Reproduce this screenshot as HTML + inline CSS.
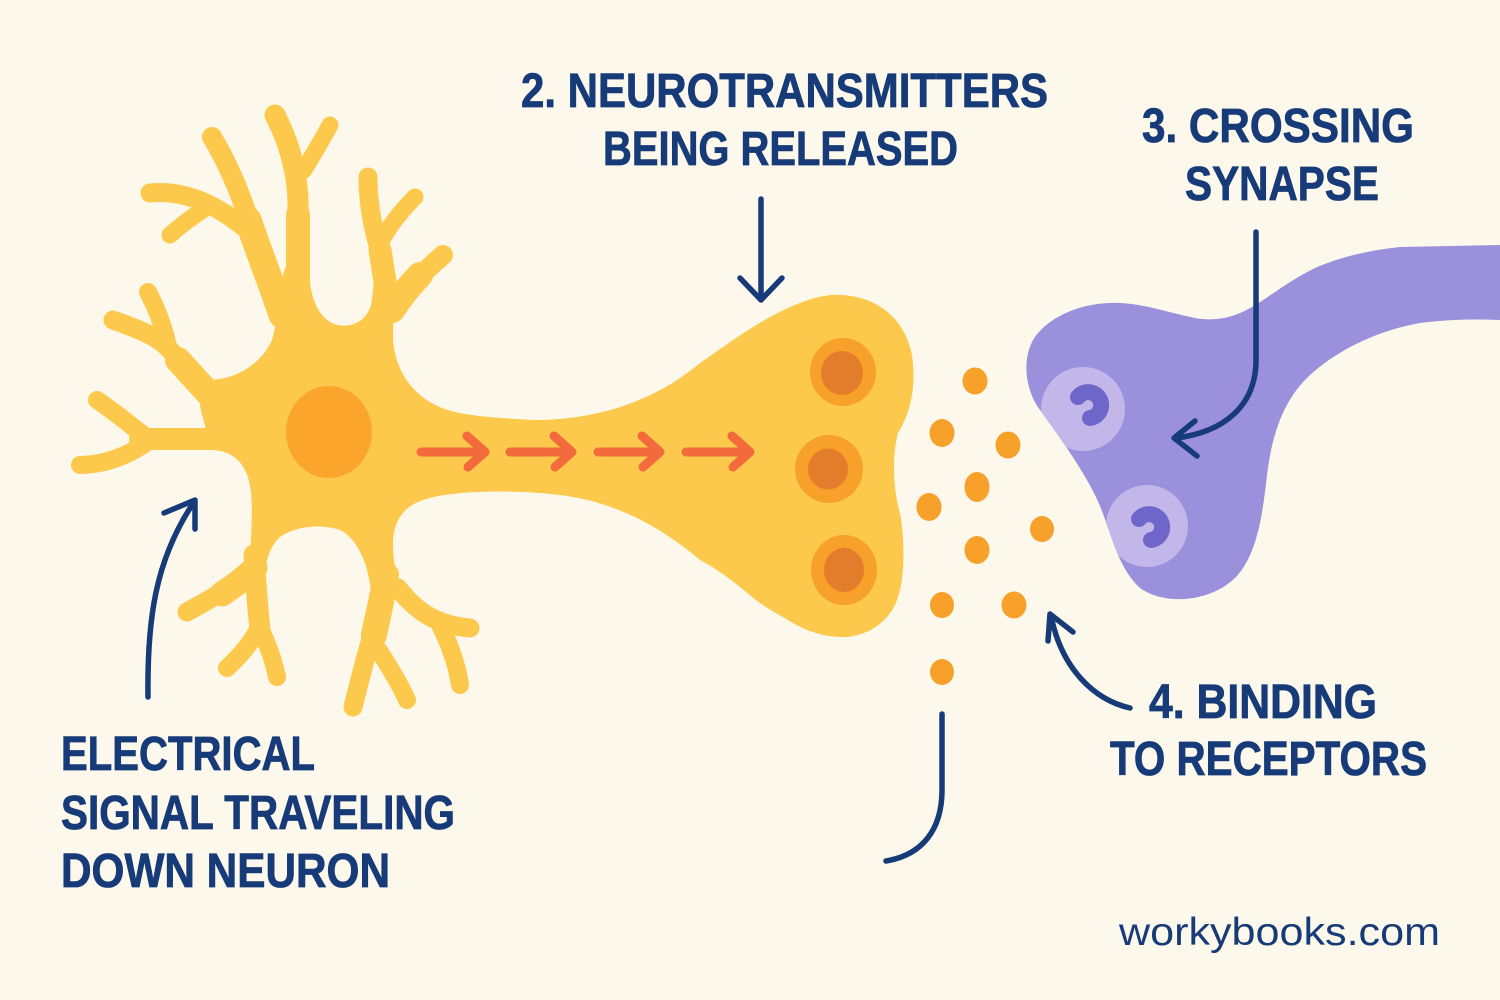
<!DOCTYPE html>
<html>
<head>
<meta charset="utf-8">
<style>
  html,body{margin:0;padding:0;background:#fdf8ec;}
  svg{display:block;}
  .lbl{font-family:"Liberation Sans",Arial,sans-serif;font-weight:bold;font-size:48px;fill:#173b78;stroke:#173b78;stroke-width:0.8px;}
</style>
</head>
<body>
<svg width="1500" height="1000" viewBox="0 0 1500 1000" xmlns="http://www.w3.org/2000/svg">
  <defs>
    <clipPath id="purpClip">
      <path d="M1500,245 L1400,247 C1370,250 1340,257 1315,268 C1290,280 1265,300 1250,308 C1235,317 1215,322 1195,318 C1165,312 1140,302 1110,303 C1075,304 1045,320 1033,340 C1022,360 1025,390 1040,410 C1058,435 1080,465 1095,495 C1110,525 1115,565 1140,588 C1165,606 1210,602 1235,578 C1258,555 1263,510 1267,475 C1272,435 1283,400 1310,375 C1340,348 1380,330 1420,323 C1450,319 1480,319 1500,320 Z"/>
    </clipPath>
  </defs>
  <rect width="1500" height="1000" fill="#fdf8ec"/>

  <!-- ===== Yellow neuron ===== -->
  <g fill="none" stroke="#fcc94c" stroke-linecap="round" stroke-linejoin="round">
    <!-- A + B + C -->
    <path d="M212,137 C232,170 245,205 255,240 C262,265 272,285 280,310" stroke-width="20"/>
    <path d="M248,220 C260,255 272,285 282,315" stroke-width="27"/>
    <path d="M150,193 C180,190 210,200 245,228" stroke-width="19"/>
    <path d="M170,235 C180,226 192,217 203,210" stroke-width="17"/>
    <!-- D + E -->
    <path d="M275,115 C288,140 297,170 298,200 L298,290" stroke-width="21"/>
    <path d="M298,215 L298,290" stroke-width="24"/>
    <path d="M330,125 C322,140 313,155 304,170" stroke-width="17"/>
    <!-- F + G -->
    <path d="M368,177 C368,200 372,225 378,245 C382,260 385,280 388,305" stroke-width="19"/>
    <path d="M380,250 C383,270 386,285 388,305" stroke-width="23"/>
    <path d="M415,197 C405,207 392,222 383,238" stroke-width="17"/>
    <!-- H -->
    <path d="M443,255 C428,268 410,285 395,305" stroke-width="20"/>
    <path d="M420,275 C410,285 402,295 392,310" stroke-width="26"/>
    <!-- I -->
    <path d="M113,320 C135,328 155,335 167,347 C182,362 195,378 212,398" stroke-width="19"/>
    <path d="M178,360 C192,375 200,385 215,400" stroke-width="26"/>
    <path d="M148,292 C155,305 162,322 167,342" stroke-width="18"/>
    <!-- J -->
    <path d="M97,400 C115,412 130,425 145,436" stroke-width="18"/>
    <path d="M80,465 C105,465 130,455 150,440" stroke-width="18"/>
    <path d="M140,439 C165,439 195,439 225,439" stroke-width="22"/>
    <!-- K -->
    <path d="M187,612 C205,602 228,590 252,570" stroke-width="19"/>
    <path d="M222,594 C235,585 245,578 255,568" stroke-width="25"/>
    <!-- L -->
    <path d="M254,555 C256,590 258,610 260,630" stroke-width="21"/>
    <path d="M259,628 C250,645 238,658 227,668" stroke-width="18"/>
    <path d="M260,628 C268,645 274,662 277,677" stroke-width="18"/>
    <!-- M -->
    <path d="M385,575 C380,610 372,635 365,660 C360,680 356,695 353,707" stroke-width="19"/>
    <path d="M386,575 C382,600 378,615 374,635" stroke-width="26"/>
    <path d="M372,640 C385,660 398,680 407,700" stroke-width="18"/>
    <!-- N -->
    <path d="M398,588 C415,610 435,625 470,628" stroke-width="19"/>
    <path d="M440,625 C450,645 457,665 460,685" stroke-width="18"/>
  </g>

  <!-- soma + axon + terminal bulb -->
  <path fill="#fcc94c" d="
    M285,268
    C292,262 302,258 308,258
    C309,285 312,310 330,322
    C345,330 365,325 371,305
    C374,290 374,270 375,250
    L392,290
    C398,300 393,315 393,335
    C393,370 415,405 460,413
    C480,417 500,418 534,420
    C590,420 650,405 700,363
    C720,350 760,318 800,303
    C815,297 830,294 843,295
    C880,298 905,320 912,355
    C916,385 912,410 898,433
    C892,455 893,490 900,513
    C905,540 905,580 897,600
    C890,620 870,635 847,637
    C820,638 800,628 783,617
    C760,605 750,595 740,587
    C725,575 715,568 700,560
    C670,535 625,503 560,495
    C520,490 460,490 430,498
    C400,505 393,525 393,545
    C393,565 398,580 405,595
    L385,600 L372,600
    C370,570 360,540 340,530
    C320,523 292,527 279,538
    C266,550 263,575 263,600
    L250,585
    C248,560 254,520 251,492
    C248,465 235,452 214,450
    C208,438 203,420 200,406
    C201,395 205,385 212,380
    C240,378 262,362 272,340
    C278,320 278,290 285,268 Z"/>

  <!-- nucleus -->
  <ellipse cx="329" cy="432" rx="43" ry="46" fill="#fba52d"/>

  <!-- vesicles -->
  <ellipse cx="843" cy="372" rx="33" ry="34" fill="#f7a12a"/>
  <ellipse cx="842" cy="373" rx="21" ry="22" fill="#e47d2b"/>
  <ellipse cx="829" cy="469" rx="34" ry="34" fill="#f7a12a"/>
  <ellipse cx="828" cy="469" rx="20" ry="20.5" fill="#e47d2b"/>
  <ellipse cx="844" cy="570" rx="33" ry="35" fill="#f7a12a"/>
  <ellipse cx="844" cy="570" rx="20" ry="22" fill="#e47d2b"/>

  <!-- signal arrows in axon -->
  <g fill="none" stroke="#f36b3c" stroke-width="9" stroke-linecap="round" stroke-linejoin="round">
    <path d="M421,452 L484,452 M467,436 L485,452 L468,467"/>
    <path d="M510,452 L571,452 M554,436 L572,452 L555,467"/>
    <path d="M598,452 L659,452 M642,436 L660,452 L643,467"/>
    <path d="M686,452 L749,452 M732,436 L750,452 L733,467"/>
  </g>

  <!-- ===== Purple receiving neuron ===== -->
  <path fill="#9b90dc" d="M1500,245 L1400,247 C1370,250 1340,257 1315,268 C1290,280 1265,300 1250,308 C1235,317 1215,322 1195,318 C1165,312 1140,302 1110,303 C1075,304 1045,320 1033,340 C1022,360 1025,390 1040,410 C1058,435 1080,465 1095,495 C1110,525 1115,565 1140,588 C1165,606 1210,602 1235,578 C1258,555 1263,510 1267,475 C1272,435 1283,400 1310,375 C1340,348 1380,330 1420,323 C1450,319 1480,319 1500,320 Z"/>
  <g clip-path="url(#purpClip)">
    <circle cx="1083" cy="409" r="42" fill="#c3b7e9"/>
    <circle cx="1147" cy="526" r="41" fill="#c3b7e9"/>
  </g>
  <g fill="none" stroke="#6f66c9" stroke-width="16" stroke-linecap="round">
    <path d="M1078,397 A13,13 0 1 1 1090,418"/>
    <path d="M1139,519 A13,13 0 1 1 1151,540"/>
  </g>

  <!-- neurotransmitter dots -->
  <g fill="#f7a12a">
    <ellipse cx="975" cy="381" rx="12.5" ry="13.5"/>
    <ellipse cx="942" cy="433" rx="12.5" ry="14"/>
    <ellipse cx="1008" cy="445" rx="12.5" ry="13.5"/>
    <ellipse cx="977" cy="487" rx="12.5" ry="15"/>
    <ellipse cx="929" cy="507" rx="12.5" ry="14"/>
    <ellipse cx="1042" cy="529" rx="12" ry="13"/>
    <ellipse cx="977" cy="550" rx="12.5" ry="14"/>
    <ellipse cx="942" cy="605" rx="12" ry="13"/>
    <ellipse cx="1014" cy="605" rx="12.5" ry="13.5"/>
    <ellipse cx="942" cy="672" rx="12" ry="13"/>
  </g>

  <!-- ===== Navy arrows ===== -->
  <g fill="none" stroke="#173b78" stroke-width="5.5" stroke-linecap="round" stroke-linejoin="round">
    <path d="M761,199 L761,299"/>
    <path d="M740,278 L761,300 L782,278"/>
    <path d="M1256,232 L1256,360 C1256,405 1225,432 1176,438"/>
    <path d="M1195,421 L1174,438 L1197,456"/>
    <path d="M148,697 C147,620 155,560 194,502"/>
    <path d="M164,513 L195,500 L195,529"/>
    <path d="M1130,708 C1095,700 1062,670 1051,616"/>
    <path d="M1073,632 L1050,614 L1048,641"/>
    <path d="M942,714 L942,790 C942,830 922,855 886,861"/>
  </g>

  <!-- ===== Labels ===== -->
  <text class="lbl" x="521" y="107" textLength="527" lengthAdjust="spacingAndGlyphs">2. NEUROTRANSMITTERS</text>
  <text class="lbl" x="603" y="165" textLength="355" lengthAdjust="spacingAndGlyphs">BEING RELEASED</text>
  <text class="lbl" x="1142" y="142" textLength="272" lengthAdjust="spacingAndGlyphs">3. CROSSING</text>
  <text class="lbl" x="1185" y="200" textLength="194" lengthAdjust="spacingAndGlyphs">SYNAPSE</text>
  <text class="lbl" x="1149" y="718" textLength="228" lengthAdjust="spacingAndGlyphs">4. BINDING</text>
  <text class="lbl" x="1110" y="775" textLength="317" lengthAdjust="spacingAndGlyphs">TO RECEPTORS</text>
  <text class="lbl" x="61" y="770" textLength="254" lengthAdjust="spacingAndGlyphs">ELECTRICAL</text>
  <text class="lbl" x="61" y="829" textLength="394" lengthAdjust="spacingAndGlyphs">SIGNAL TRAVELING</text>
  <text class="lbl" x="61" y="887" textLength="329" lengthAdjust="spacingAndGlyphs">DOWN NEURON</text>
  <text x="1119" y="945" textLength="321" lengthAdjust="spacingAndGlyphs" style="font-family:'Liberation Sans',Arial,sans-serif;font-size:39px;fill:#173b78;">workybooks.com</text>
</svg>
</body>
</html>
